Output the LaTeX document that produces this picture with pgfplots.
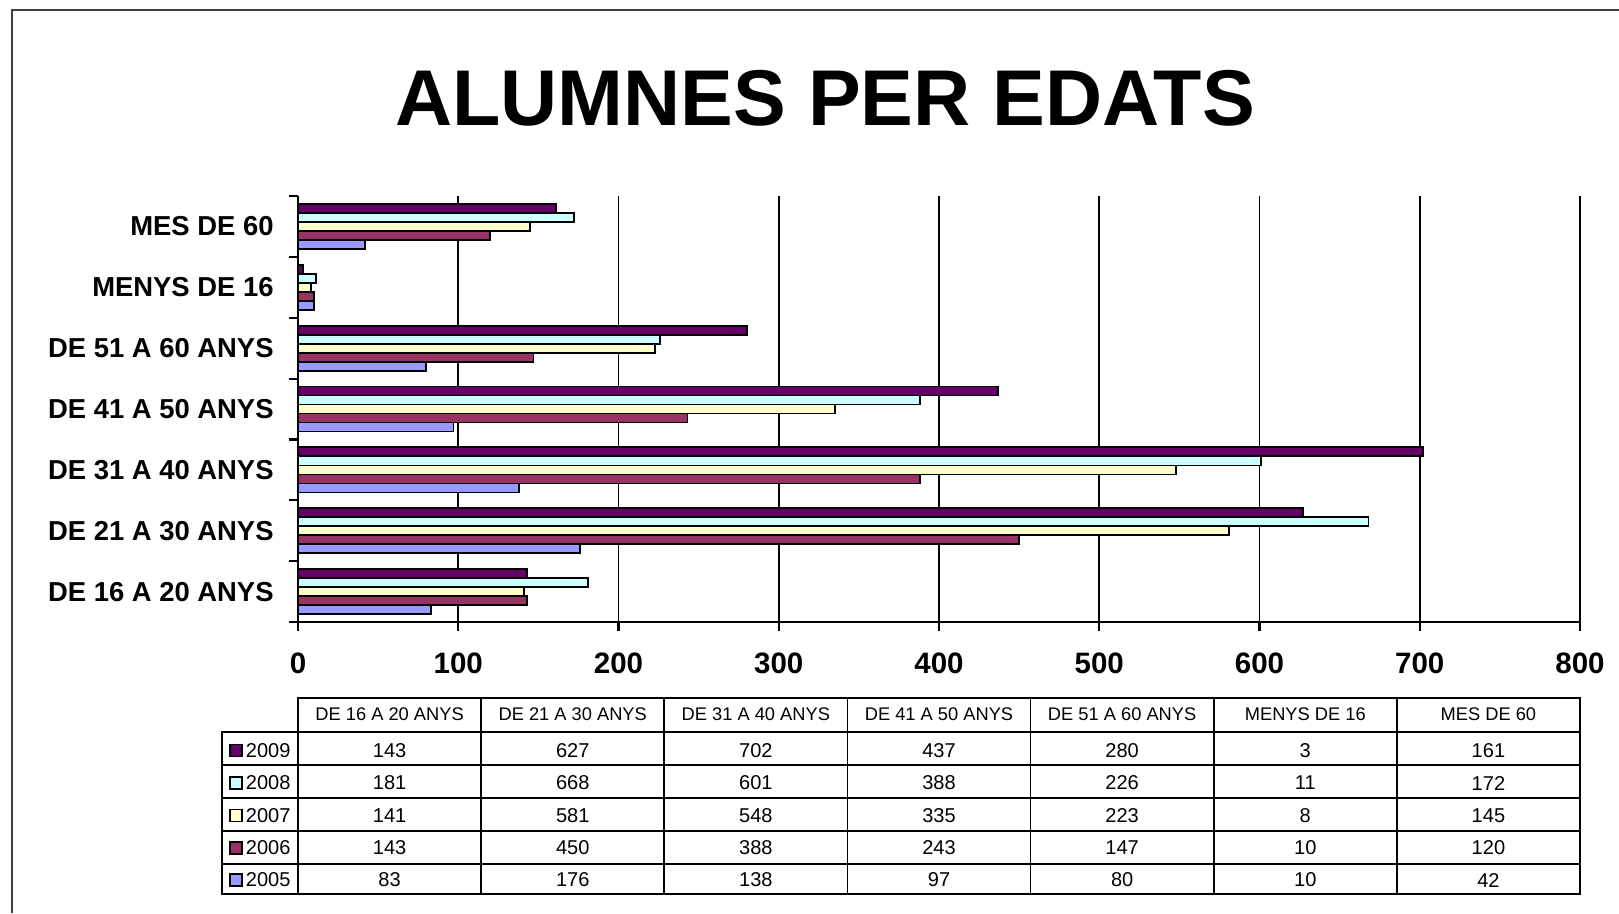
\documentclass[border=0pt]{standalone}
\usepackage{pgfplots}
\pgfplotsset{compat=1.18}
\usepackage{fontspec}
\setmainfont{Liberation Sans}

\definecolor{c09}{HTML}{660066}
\definecolor{c08}{HTML}{CCFFFF}
\definecolor{c07}{HTML}{FFFFCC}
\definecolor{c06}{HTML}{993366}
\definecolor{c05}{HTML}{9999FF}

\begin{document}
\begin{tikzpicture}
\begin{scope}[x=0.1mm,y=-0.1mm]
  \useasboundingbox (0,0) rectangle (1619,913);
  % outer frame (cut at right and bottom)
  \draw[line width=0.6pt, black!75] (12,913) -- (12,10) -- (1619,10);
  \node[font=\fontsize{22.5}{24}\selectfont\bfseries] at (825,98) {ALUMNES PER EDATS};
\end{scope}

\begin{axis}[
  at={(29.8mm,-62.2mm)}, anchor=south west,
  scale only axis, width=128.2mm, height=42.6mm,
  xbar, bar width=0.148,
  xmin=0, xmax=800, ymin=-0.5, ymax=6.5,
  axis x line*=bottom, axis y line*=left,
  axis line style={-, line width=0.6pt, black},
  xtick={0,100,...,800},
  xmajorgrids, major grid style={black, line width=0.55pt},
  ytick={-0.5,0.5,...,6.5},
  yticklabels={,,,,,,,},
  extra y ticks={0,1,2,3,4,5,6},
  extra y tick labels={DE 16 A 20 ANYS,DE 21 A 30 ANYS,DE 31 A 40 ANYS,DE 41 A 50 ANYS,DE 51 A 60 ANYS,MENYS DE 16,MES DE 60},
  extra y tick style={tick style={draw=none}, yticklabel style={xshift=-0.3mm, font=\fontsize{7.8}{9}\selectfont\bfseries}},
  tick align=outside, major tick length=0.9mm,
  tick style={black, line width=0.6pt},
  ticklabel style={font=\fontsize{8.4}{10}\selectfont\bfseries},
  /pgf/number format/assume math mode=true,
  xticklabel style={yshift=-0.9mm},
  clip=false,
]
\addplot[draw=black, line width=0.5pt, fill=c09, bar shift=0.296]
  coordinates {(143,0) (627,1) (702,2) (437,3) (280,4) (3,5) (161,6)};
\addplot[draw=black, line width=0.5pt, fill=c08, bar shift=0.148]
  coordinates {(181,0) (668,1) (601,2) (388,3) (226,4) (11,5) (172,6)};
\addplot[draw=black, line width=0.5pt, fill=c07, bar shift=0]
  coordinates {(141,0) (581,1) (548,2) (335,3) (223,4) (8,5) (145,6)};
\addplot[draw=black, line width=0.5pt, fill=c06, bar shift=-0.148]
  coordinates {(143,0) (450,1) (388,2) (243,3) (147,4) (10,5) (120,6)};
\addplot[draw=black, line width=0.5pt, fill=c05, bar shift=-0.296]
  coordinates {(83,0) (176,1) (138,2) (97,3) (80,4) (10,5) (42,6)};
\end{axis}

% data table below the chart
\begin{scope}[x=0.1mm,y=-0.1mm, line width=0.5pt, font=\fontsize{5.7}{6.5}\selectfont]
  \draw (298,698) rectangle (1580,894);
  \draw (222,732) rectangle (298,894);
  \foreach \yy in {732,765,798,831,864} \draw (222,\yy) -- (1580,\yy);
  \foreach \j in {1,...,6} \draw ({298+183.14*\j},698) -- ({298+183.14*\j},894);
  \foreach \h [count=\j from 0] in {DE 16 A 20 ANYS,DE 21 A 30 ANYS,DE 31 A 40 ANYS,DE 41 A 50 ANYS,DE 51 A 60 ANYS,MENYS DE 16,MES DE 60}
    \node[font=\fontsize{5.2}{6}\selectfont] at ({298+183.14*(\j+0.5)},714) {\h};
  \foreach \yr/\col/\yc/\vals in {
      2009/c09/750.5/{143,627,702,437,280,3,161},
      2008/c08/783/{181,668,601,388,226,11,172},
      2007/c07/815.5/{141,581,548,335,223,8,145},
      2006/c06/848/{143,450,388,243,147,10,120},
      2005/c05/880/{83,176,138,97,80,10,42}} {
    \draw[fill=\col, line width=0.4pt] (230,{\yc-6}) rectangle (242,{\yc+6});
    \node[anchor=west, inner sep=0pt] at (245,\yc) {\yr};
    \foreach \v [count=\j from 0] in \vals
      \node at ({298+183.14*(\j+0.5)},\yc) {\v};
  }
\end{scope}
\end{tikzpicture}
\end{document}
